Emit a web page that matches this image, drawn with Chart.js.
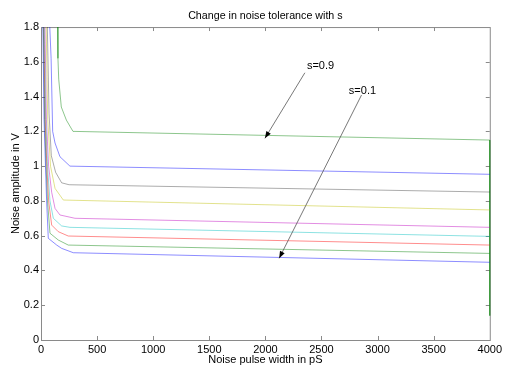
<!DOCTYPE html>
<html>
<head>
<meta charset="utf-8">
<script src="https://cdn.jsdelivr.net/npm/chart.js@4/dist/chart.umd.min.js"></script>
<style>
  html, body { margin: 0; padding: 0; background: #fff; }
  #wrap { width: 505px; height: 371px; }
</style>
</head>
<body>
<div id="wrap"><canvas id="noiseChart"></canvas></div>
<script>
/* ── Data: [pulse width pS, amplitude V] per s value ── */
const curveS01 = [[16,1.85],[27,1.27],[40,1.0],[50,0.8],[65,0.585],[140,0.546],[184,0.527],[288,0.502],[4000,0.447]];
const curveS02 = [[20,1.85],[32,1.27],[45,1.0],[58,0.8],[80,0.614],[154,0.575],[243,0.546],[4000,0.498]];
const curveS03 = [[24,1.85],[37,1.27],[52,1.0],[68,0.8],[95,0.661],[154,0.623],[243,0.598],[4000,0.546]];
const curveS04 = [[28,1.85],[42,1.27],[58,1.0],[80,0.8],[110,0.70],[184,0.656],[258,0.648],[4000,0.596]];
const curveS05 = [[34,1.85],[48,1.27],[68,1.0],[95,0.85],[125,0.757],[169,0.719],[303,0.700],[4000,0.648]];
const curveS06 = [[45,1.85],[60,1.27],[85,1.0],[125,0.872],[199,0.805],[4000,0.748]];
const curveS07 = [[55,1.85],[72,1.3],[92,1.06],[130,0.965],[184,0.904],[250,0.893],[4000,0.851]];
const curveS08 = [[75,1.85],[90,1.62],[104,1.2],[125,1.133],[169,1.054],[258,1.0],[4000,0.953]];
const curveS09 = [[148,1.85],[151,1.62],[158,1.5],[181,1.34],[226,1.265],[285,1.2],[4000,1.15],[4000,0.14]];

const CURVES = [curveS01, curveS02, curveS03, curveS04, curveS05, curveS06, curveS07, curveS08, curveS09];
const S_VALUES = ['0.1','0.2','0.3','0.4','0.5','0.6','0.7','0.8','0.9'];

const X_MIN = 0, X_MAX = 4000, X_STEP = 500;
const Y_MIN = 0, Y_MAX = 1.8, Y_STEP = 0.2;

// matlab line order b g r c m y k, drawn thin and washed out
const LINE_COLORS = [
  'rgba(0,0,255,0.45)', 'rgba(0,128,0,0.45)', 'rgba(255,0,0,0.45)',
  'rgba(0,190,190,0.45)', 'rgba(190,0,190,0.45)', 'rgba(190,190,0,0.45)',
  'rgba(0,0,0,0.33)', 'rgba(0,0,255,0.45)', 'rgba(0,128,0,0.45)',
];

/* ── Text arrows: label at [x, y], arrow from tail to head ── */
const NOTES = [
  { text: 's=0.9', at: [2370, 1.576], tail: [2352, 1.537], head: [1996, 1.160] },
  { text: 's=0.1', at: [2744, 1.434], tail: [2857, 1.409], head: [2123, 0.470] },
];

const AXIS_COLOR = '#8a8a8a';
const FONT = { family: '"Liberation Sans", Arial, Helvetica, sans-serif', size: 11 };

Chart.defaults.font.family = FONT.family;
Chart.defaults.font.size = FONT.size;
Chart.defaults.color = '#000';

/* ── Plugins ── */
// axis box with inward tick marks on all four sides
const boxPlugin = {
  id: 'box',
  beforeDatasetsDraw(chart) {
    const { ctx, chartArea: a, scales: { x, y } } = chart;
    ctx.save();
    ctx.strokeStyle = AXIS_COLOR;
    ctx.lineWidth = 1;
    ctx.strokeRect(a.left + 0.5, a.top + 0.5, a.right - a.left, a.bottom - a.top);
    ctx.beginPath();
    for (let v = X_MIN + X_STEP; v < X_MAX; v += X_STEP) {
      const px = Math.round(x.getPixelForValue(v)) + 0.5;
      ctx.moveTo(px, a.bottom); ctx.lineTo(px, a.bottom - 4);
      ctx.moveTo(px, a.top);    ctx.lineTo(px, a.top + 4);
    }
    for (let v = Y_MIN + Y_STEP; v < Y_MAX - 1e-9; v += Y_STEP) {
      const py = Math.round(y.getPixelForValue(v)) + 0.5;
      ctx.moveTo(a.left, py);  ctx.lineTo(a.left + 4, py);
      ctx.moveTo(a.right, py); ctx.lineTo(a.right - 4, py);
    }
    ctx.stroke();
    ctx.restore();
  },
};

const notesPlugin = {
  id: 'notes',
  afterDatasetsDraw(chart) {
    const { ctx, scales: { x, y } } = chart;
    ctx.save();
    NOTES.forEach(n => {
      const tx = x.getPixelForValue(n.tail[0]), ty = y.getPixelForValue(n.tail[1]);
      const hx = x.getPixelForValue(n.head[0]), hy = y.getPixelForValue(n.head[1]);
      ctx.strokeStyle = '#555';
      ctx.lineWidth = 0.8;
      ctx.beginPath(); ctx.moveTo(tx, ty); ctx.lineTo(hx, hy); ctx.stroke();

      const ang = Math.atan2(hy - ty, hx - tx), len = 7, half = 2.6;
      const bx = hx - len * Math.cos(ang), by = hy - len * Math.sin(ang);
      ctx.fillStyle = '#000';
      ctx.beginPath();
      ctx.moveTo(hx, hy);
      ctx.lineTo(bx + half * Math.sin(ang), by - half * Math.cos(ang));
      ctx.lineTo(bx - half * Math.sin(ang), by + half * Math.cos(ang));
      ctx.closePath(); ctx.fill();

      ctx.font = `${FONT.size}px ${FONT.family}`;
      ctx.textAlign = 'left';
      ctx.textBaseline = 'middle';
      ctx.fillText(n.text, x.getPixelForValue(n.at[0]), y.getPixelForValue(n.at[1]));
    });
    ctx.restore();
  },
};

/* ── Chart ── */
new Chart(document.getElementById('noiseChart'), {
  type: 'scatter',
  data: {
    datasets: CURVES.map((pts, i) => ({
      label: 's=' + S_VALUES[i],
      data: pts.map(([px, py]) => ({ x: px, y: py })),
      showLine: true,
      borderColor: LINE_COLORS[i],
      borderWidth: 1,
      pointRadius: 0,
      tension: 0,
      clip: { left: 1, top: 0, right: 2, bottom: 1 },
    })),
  },
  options: {
    responsive: true, maintainAspectRatio: false, animation: false,
    layout: { padding: { left: 0, top: 0, right: 15, bottom: 0 } },
    plugins: {
      legend: { display: false },
      tooltip: { enabled: false },
      title: {
        display: true, fullSize: false,
        text: 'Change in noise tolerance with s',
        color: '#000', font: { size: 10.7, weight: 'normal' },
        padding: { top: 9.6, bottom: 4.6 },
      },
    },
    scales: {
      x: {
        type: 'linear', min: X_MIN, max: X_MAX,
        grid: { display: false, drawTicks: false },
        border: { display: false },
        ticks: { stepSize: X_STEP, padding: 3, color: '#000', maxRotation: 0, callback: v => String(v) },
        title: { display: true, text: 'Noise pulse width in pS', color: '#000', padding: { top: 0, bottom: 4.4 } },
        afterFit: s => { s.height = 31; },
      },
      y: {
        type: 'linear', min: Y_MIN, max: Y_MAX,
        grid: { display: false, drawTicks: false },
        border: { display: false },
        ticks: { stepSize: Y_STEP, padding: 2, color: '#000', callback: v => String(+v.toFixed(1)) },
        title: { display: true, text: 'Noise amplitude in V', color: '#000', padding: { top: 9.4, bottom: 0 } },
        afterFit: s => { s.width = 41; },
      },
    },
  },
  plugins: [boxPlugin, notesPlugin],
});
</script>
</body>
</html>
